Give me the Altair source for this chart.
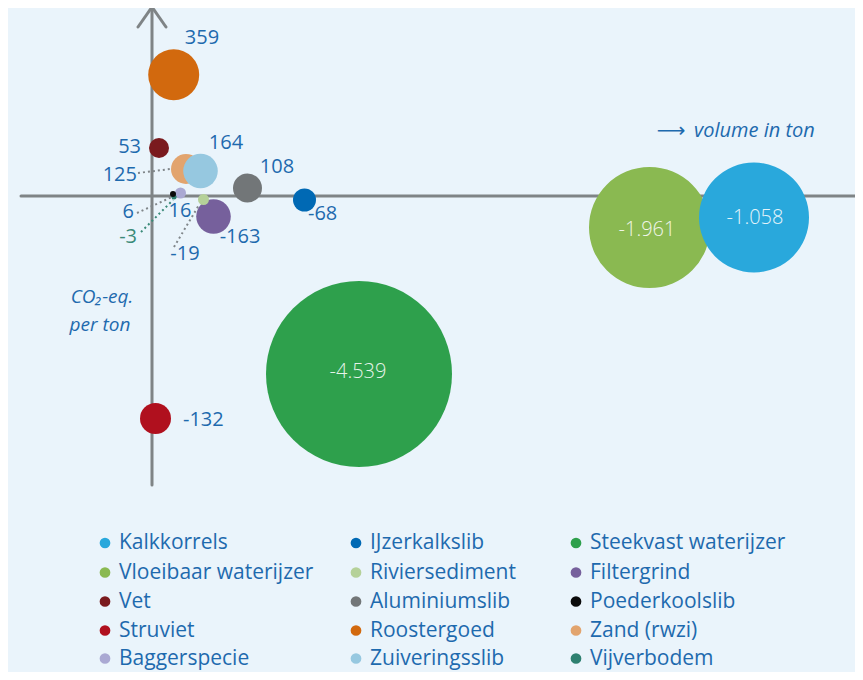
import altair as alt
import pandas as pd

# ---------------- data ----------------
materials = ["Kalkkorrels", "IJzerkalkslib", "Steekvast waterijzer",
             "Vloeibaar waterijzer", "Riviersediment", "Filtergrind",
             "Vet", "Aluminiumslib", "Poederkoolslib",
             "Struviet", "Roostergoed", "Zand (rwzi)",
             "Baggerspecie", "Zuiveringsslib", "Vijverbodem"]
colors = ["#29A8DC", "#0069B4", "#2EA04C",
          "#8AB951", "#B5D199", "#76609C",
          "#7A1A1E", "#727678", "#0B0B0B",
          "#B0101E", "#D2690E", "#E2A46E",
          "#AAA9D3", "#96C8E0", "#2E8070"]
# schematic position: volume (x) and CO2-eq per ton (y)
volume = [602, 152.5, 207, 497.5, 51.5, 61.5, 7, 95.5, 21, 3.5, 21.7, 34, 28.5, 48.5, 22]
co2_per_ton = [-21.5, -4, -178, -31.5, -3.5, -20.5, 48, 8, 2, -222.5, 121.3, 27, 3, 25, -1]
bubble_radius = [55, 11.5, 93, 60.5, 5.5, 17.3, 10, 14.5, 3, 15.5, 25.5, 15, 5.5, 17.3, 2.5]
value_labels = ["-1.058", "-68", "-4.539", "-1.961", "-19", "-163", "53", "108", "6",
                "-132", "359", "125", "16", "164", "-3"]
draw_order = [2, 3, 0, 10, 6, 11, 13, 7, 1, 5, 4, 12, 14, 8, 9]

# label placement (schematic units)
label_x = [603, 156, 206, 495, 33, 88, -11, 125, -18, 31, 50, -15, 28, 74, -15]
label_y = [-22, -18, -176, -34, -58, -41, 49, 29, -16, -224, 158, 21, -15, 53, -41]
label_align = ["center", "left", "center", "center", "center", "center", "right", "center",
               "right", "left", "center", "right", "center", "center", "right"]
label_inside = [True, False, True, True, False, False, False, False, False,
                False, False, False, False, False, False]

# dotted leader lines
leader_x1 = [-14, -15, -11, 22]
leader_y1 = [23, -17, -36, -51]
leader_x2 = [18, 20, 21, 47]
leader_y2 = [27, -1, -4, -9]
leader_color = ["#80868A", "#80868A", "#3A8A78", "#80868A"]

# axes segments (with arrow heads)
axis_x1 = [0, -131, -14, 0, 705, 717]
axis_y1 = [189, 0, 169, 189, 13, 0]
axis_x2 = [0, 717, 0, 14, 717, 705]
axis_y2 = [-289, 0, 189, 169, 0, -13]

TEXT_BLUE = "#1E6AAE"
FONT = "Open Sans"
BG = "#EAF4FB"

W, H = 847, 664
x_scale = alt.Scale(domain=[-144, W - 144], range=[0, W], nice=False, zero=False)
y_scale = alt.Scale(domain=[188 - H, 188], range=[H, 0], nice=False, zero=False)

# ---------------- frames ----------------
bub = pd.DataFrame({
    "material": materials, "color": colors, "x": volume, "y": co2_per_ton,
    "size": [4 * r * r for r in bubble_radius],   # vega circle: r = sqrt(size)/2
})
bub = bub.iloc[draw_order].reset_index(drop=True)

lab = pd.DataFrame({"label": value_labels, "x": label_x, "y": label_y,
                    "align": label_align, "inside": label_inside,
                    "color": [("#FFFFFF" if i else TEXT_BLUE) for i in label_inside]})
lab.loc[14, "color"] = "#3A8A78"

lead = pd.DataFrame({"x": leader_x1, "y": leader_y1, "x2": leader_x2, "y2": leader_y2,
                     "color": leader_color})
ax = pd.DataFrame({"x": axis_x1, "y": axis_y1, "x2": axis_x2, "y2": axis_y2})

# legend layout (3 columns x 5 rows)
col_text_x = [-33, 218, 438]
row_y = [-347, -376.5, -405.5, -434.5, -462.5]
leg = pd.DataFrame({
    "material": materials, "color": colors,
    "tx": [col_text_x[i % 3] for i in range(len(materials))],
    "dx": [col_text_x[i % 3] - 14 for i in range(len(materials))],
    "y": [row_y[i // 3] for i in range(len(materials))],
})

X = lambda f: alt.X(f, type="quantitative", scale=x_scale, axis=None)
Y = lambda f: alt.Y(f, type="quantitative", scale=y_scale, axis=None)

axes = alt.Chart(ax).mark_rule(color="#7F8486", strokeWidth=3, strokeCap="round").encode(
    x=X("x"), y=Y("y"), x2="x2", y2="y2")

leaders = alt.Chart(lead).mark_rule(strokeWidth=2, strokeDash=[2, 3]).encode(
    x=X("x"), y=Y("y"), x2="x2", y2="y2",
    color=alt.Color("color:N", scale=None))

bubbles = alt.Chart(bub).mark_circle(opacity=1).encode(
    x=X("x"), y=Y("y"),
    size=alt.Size("size:Q", scale=None),
    color=alt.Color("color:N", scale=None))

outer = lab[~lab["inside"]]
inner = lab[lab["inside"]]
texts = []
for al in ["left", "center", "right"]:
    sub = outer[outer["align"] == al]
    if len(sub):
        texts.append(alt.Chart(sub).mark_text(align=al, baseline="middle", font=FONT,
                                              fontSize=20).encode(
            x=X("x"), y=Y("y"), text="label:N", color=alt.Color("color:N", scale=None)))
inner_text = alt.Chart(inner).mark_text(align="center", baseline="middle", font=FONT,
                                        fontSize=20, fontWeight=300, opacity=0.88).encode(
    x=X("x"), y=Y("y"), text="label:N", color=alt.value("#FFFFFF"))

ann = pd.DataFrame({"t": ["volume in ton", "CO\u2082-eq.", "per ton"],
                    "x": [542, -50, -52], "y": [65, -101, -129]})
ann_left = alt.Chart(ann.iloc[[0]]).mark_text(align="left", baseline="middle", font=FONT,
                                               fontSize=20, fontStyle="italic",
                                               color=TEXT_BLUE).encode(
    x=X("x"), y=Y("y"), text="t:N")
ann_center = alt.Chart(ann.iloc[[1, 2]]).mark_text(align="center", baseline="middle",
                                                    font=FONT, fontSize=19,
                                                    fontStyle="italic",
                                                    color=TEXT_BLUE).encode(
    x=X("x"), y=Y("y"), text="t:N")
arrow = alt.Chart(pd.DataFrame({"t": ["\u27F6"], "x": [519], "y": [65]})).mark_text(
    align="center", baseline="middle", font="DejaVu Sans", fontSize=20,
    color=TEXT_BLUE).encode(x=X("x"), y=Y("y"), text="t:N")

leg_dots = alt.Chart(leg).mark_circle(size=115, opacity=1).encode(
    x=X("dx"), y=Y("y"), color=alt.Color("color:N", scale=None))
leg_text = alt.Chart(leg).mark_text(align="left", baseline="middle", font=FONT,
                                    fontSize=21, color=TEXT_BLUE).encode(
    x=X("tx"), y=Y("y"), text="material:N")

chart = alt.layer(axes, leaders, bubbles, *texts, inner_text, ann_left, ann_center, arrow,
                  leg_dots, leg_text).properties(
    width=W, height=H, padding=0,
    autosize=alt.AutoSizeParams(type="none"),
    background=BG,
).configure_view(stroke=None)

chart.save("out.html", embed_options={"renderer": "svg", "actions": False})
